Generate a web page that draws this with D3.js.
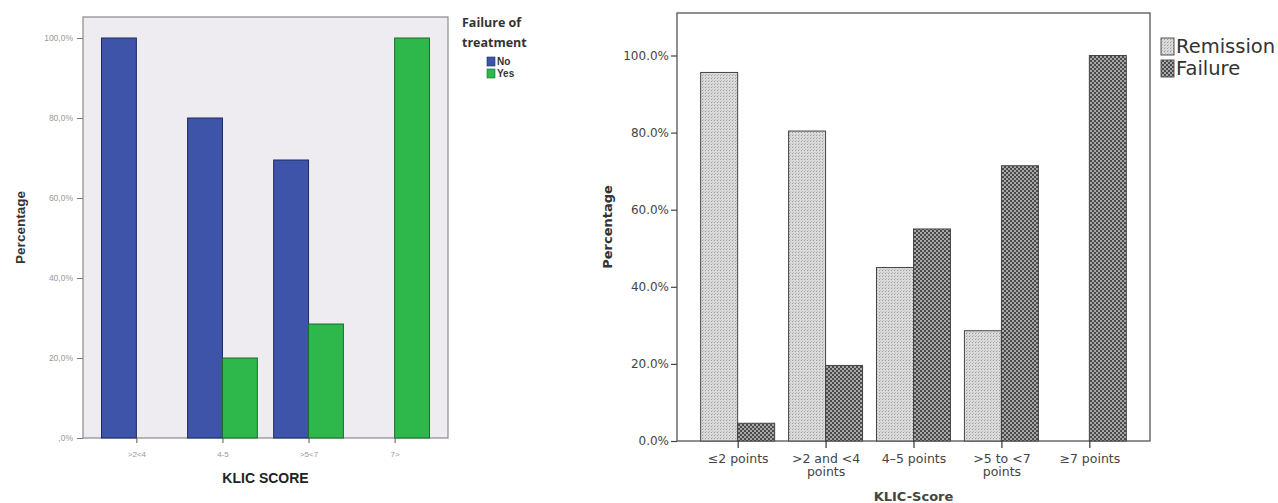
<!DOCTYPE html>
<html><head><meta charset="utf-8">
<script src="https://cdn.jsdelivr.net/npm/d3@7"></script>
<style>body{margin:0;background:#fff}svg{display:block}</style>
</head><body>
<svg id="c" width="1278" height="503"></svg>
<script>
// ---- Left chart data ----
const leftCategories = [">2<4", "4-5", ">5<7", "7>"];
const leftNo  = [100, 80, 69.5, 0];
const leftYes = [0, 20, 28.5, 100];
const leftTicks = [0, 20, 40, 60, 80, 100];
const leftTickLabels = [",0%", "20,0%", "40,0%", "60,0%", "80,0%", "100,0%"];
const leftSeries = ["No", "Yes"];

// ---- Right chart data ----
const rightCategories = [["≤2 points"], [">2 and <4", "points"], ["4–5 points"], [">5 to <7", "points"], ["≥7 points"]];
const rightRemission = [95.6, 80.4, 45, 28.6, 0];
const rightFailure   = [4.6, 19.6, 55, 71.4, 100];
const rightTicks = [0, 20, 40, 60, 80, 100];
const rightSeries = ["Remission", "Failure"];

const svg = d3.select("#c");
const defs = svg.append("defs");
// remission pattern: light dotted
const pr = defs.append("pattern").attr("id","pRem").attr("width",3).attr("height",3).attr("patternUnits","userSpaceOnUse");
pr.append("rect").attr("width",3).attr("height",3).attr("fill","#dadada");
pr.append("rect").attr("width",1).attr("height",1).attr("fill","#9c9c9c");
pr.append("rect").attr("x",1).attr("y",2).attr("width",1).attr("height",1).attr("fill","#bcbcbc");
// failure pattern: dark checker
const pf = defs.append("pattern").attr("id","pFail").attr("width",4).attr("height",4).attr("patternUnits","userSpaceOnUse");
pf.append("rect").attr("width",4).attr("height",4).attr("fill","#4a4a4a");
pf.append("rect").attr("width",2).attr("height",2).attr("fill","#a8a8a8");
pf.append("rect").attr("x",2).attr("y",2).attr("width",2).attr("height",2).attr("fill","#a8a8a8");

// ================= LEFT CHART =================
(function(){
  const L = {x0:83, x1:448, y0:17, y1:438};
  const g = svg.append("g");
  const y = d3.scaleLinear().domain([0,100]).range([L.y1, L.y1-400]);
  const x = d3.scalePoint().domain(leftCategories).range([L.x0, L.x1]).padding(0.62);
  const bw = x.step()*0.405;
  const colors = {No:"#3e54a8", Yes:"#2eb84b"};
  const strokes = {No:"#1d2a66", Yes:"#1d6b2e"};
  g.append("rect").attr("x",L.x0).attr("y",L.y0).attr("width",L.x1-L.x0).attr("height",L.y1-L.y0)
    .attr("fill","#eeecf1").attr("stroke","#8a8a8a").attr("stroke-width",1.2);
  const data = [];
  leftCategories.forEach((c,i)=>{
    data.push({c, s:"No", v:leftNo[i], off:-1});
    data.push({c, s:"Yes", v:leftYes[i], off:0});
  });
  g.selectAll("rect.bar").data(data.filter(d=>d.v>0)).join("rect").attr("class","bar")
    .attr("x",d=>x(d.c)+d.off*bw).attr("width",bw)
    .attr("y",d=>y(d.v)).attr("height",d=>y(0)-y(d.v))
    .attr("fill",d=>colors[d.s]).attr("stroke",d=>strokes[d.s]).attr("stroke-width",1);
  // y axis
  const ya = d3.axisLeft(y).tickValues(leftTicks).tickSize(6).tickFormat((d,i)=>leftTickLabels[i]);
  const yg = g.append("g").attr("transform",`translate(${L.x0},0)`).call(ya);
  yg.select(".domain").remove();
  yg.selectAll("line").attr("stroke","#777");
  yg.selectAll("text").attr("font-family","Liberation Sans, Arial").attr("font-size",8.5).attr("fill","#999").attr("dx",-1);
  // x axis
  const xa = d3.axisBottom(x).tickSize(5).tickPadding(8);
  const xg = g.append("g").attr("transform",`translate(0,${L.y1})`).call(xa);
  xg.select(".domain").remove();
  xg.selectAll("line").attr("stroke","#555");
  xg.selectAll("text").attr("font-family","Liberation Sans, Arial").attr("font-size",8).attr("fill","#999");
  g.append("text").attr("x",(L.x0+L.x1)/2).attr("y",483).attr("text-anchor","middle")
    .attr("font-family","Liberation Sans, Arial").attr("font-weight","bold").attr("font-size",14).attr("fill","#222").text("KLIC SCORE");
  g.append("text").attr("transform",`translate(25,${(L.y0+L.y1)/2}) rotate(-90)`).attr("text-anchor","middle")
    .attr("font-family","Liberation Sans, Arial").attr("font-weight","bold").attr("font-size",13.5).attr("fill","#333").text("Percentage");
  // legend
  const lg = g.append("g");
  lg.append("text").attr("x",462).attr("y",27).attr("font-family","Open Sans, Liberation Sans").attr("font-weight","bold").attr("font-size",12.5).attr("fill","#333").text("Failure of");
  lg.append("text").attr("x",462).attr("y",47).attr("font-family","Open Sans, Liberation Sans").attr("font-weight","bold").attr("font-size",12.5).attr("fill","#333").text("treatment");
  leftSeries.forEach((s,i)=>{
    lg.append("rect").attr("x",487).attr("y",57+i*12).attr("width",8).attr("height",9).attr("fill",colors[s]).attr("stroke",strokes[s]).attr("stroke-width",0.6);
    lg.append("text").attr("x",497).attr("y",65+i*12).attr("font-family","Liberation Sans, Arial").attr("font-weight","bold").attr("font-size",10).attr("fill","#333").text(s);
  });
})();

// ================= RIGHT CHART =================
(function(){
  const R = {x0:677, x1:1150, y0:13, y1:441};
  const g = svg.append("g");
  const y = d3.scaleLinear().domain([0,100]).range([R.y1, R.y1-385.5]);
  const keys = rightCategories.map(d=>d.join(" "));
  const x = d3.scalePoint().domain(keys).range([R.x0, R.x1]).padding(0.69);
  const bw = 37;
  g.append("rect").attr("x",R.x0).attr("y",R.y0).attr("width",R.x1-R.x0).attr("height",R.y1-R.y0)
    .attr("fill","#fff").attr("stroke","#555").attr("stroke-width",1.3);
  const data = [];
  keys.forEach((k,i)=>{
    data.push({k, s:"Remission", v:rightRemission[i], off:-1});
    data.push({k, s:"Failure", v:rightFailure[i], off:0});
  });
  const fills = {Remission:"url(#pRem)", Failure:"url(#pFail)"};
  g.selectAll("rect.bar").data(data.filter(d=>d.v>0)).join("rect").attr("class","bar")
    .attr("x",d=>x(d.k)+d.off*bw).attr("width",bw)
    .attr("y",d=>y(d.v)).attr("height",d=>y(0)-y(d.v))
    .attr("fill",d=>fills[d.s]).attr("stroke","#444").attr("stroke-width",1);
  const ya = d3.axisLeft(y).tickValues(rightTicks).tickSize(6).tickPadding(2).tickFormat(d=>d3.format(".1f")(d)+"%");
  const yg = g.append("g").attr("transform",`translate(${R.x0},0)`).call(ya);
  yg.select(".domain").remove();
  yg.selectAll("line").attr("stroke","#444").attr("stroke-width",1.2);
  yg.selectAll("text").attr("font-family","DejaVu Sans").attr("font-size",12).attr("fill","#444");
  const xa = d3.axisBottom(x).tickSize(7).tickFormat("");
  const xg = g.append("g").attr("transform",`translate(0,${R.y1})`).call(xa);
  xg.select(".domain").remove();
  xg.selectAll("line").attr("stroke","#333").attr("stroke-width",1.2);
  xg.selectAll(".tick").each(function(d,i){
    const t = d3.select(this).append("text").attr("text-anchor","middle").attr("font-family","DejaVu Sans")
      .attr("font-size",12.5).attr("fill","#444");
    rightCategories[i].forEach((line,j)=>{
      t.append("tspan").attr("x",0).attr("y",22+j*13).text(line);
    });
  });
  g.append("text").attr("x",(R.x0+R.x1)/2).attr("y",501).attr("text-anchor","middle")
    .attr("font-family","DejaVu Sans").attr("font-weight","bold").attr("font-size",13).attr("fill","#444").text("KLIC-Score");
  g.append("text").attr("transform",`translate(612,${(R.y0+R.y1)/2}) rotate(-90)`).attr("text-anchor","middle")
    .attr("font-family","DejaVu Sans").attr("font-weight","bold").attr("font-size",13).attr("fill","#333").text("Percentage");
  rightSeries.forEach((s,i)=>{
    g.append("rect").attr("x",1161).attr("y",38+i*22).attr("width",13).attr("height",17)
      .attr("fill",fills[s]).attr("stroke","#555").attr("stroke-width",1);
    g.append("text").attr("x",1176).attr("y",53+i*22).attr("font-family","DejaVu Sans").attr("font-size",19.5).attr("fill","#333").text(s);
  });
})();
</script>
</body></html>
